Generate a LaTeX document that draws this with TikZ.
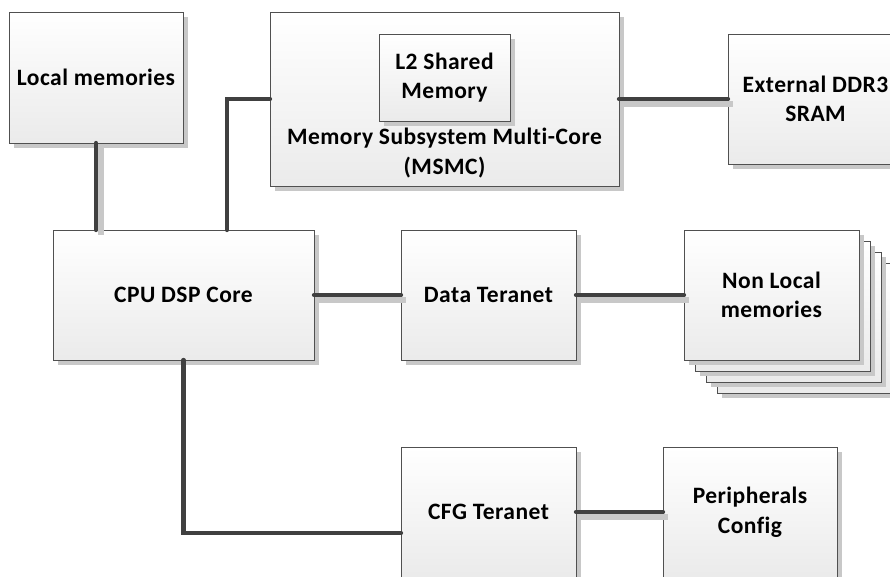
\documentclass[tikz,border=0pt]{standalone}
\usepackage{fontspec}
\setmainfont{Carlito}[Ligatures=NoCommon,LetterSpace=2.0]
\usetikzlibrary{shadows}
\definecolor{wiregray}{HTML}{404040}
\definecolor{shadegray}{HTML}{C8C8C8}
\definecolor{edgegray}{HTML}{505050}
\begin{document}
\begin{tikzpicture}
  [
    x=1pt, y=-1pt,
    inner sep=0mm, outer sep=0mm,
    font=\fontsize{23.5}{29.5}\selectfont\bfseries,
    block/.style={rectangle,draw=edgegray,line width=0.9pt,top color=white,bottom color=black!8,
      align=center,drop shadow={shadow xshift=5pt,shadow yshift=-5pt,fill=shadegray,opacity=1}},
    wire/.style={draw=wiregray,line width=4.3pt,line cap=round},
    wireshadow/.style={draw=shadegray,line width=6pt,transform canvas={xshift=5pt,yshift=-5pt}},
  ]
  \useasboundingbox (0,0) rectangle (890,577);
  % memory side
  \node (local) at (96,77.5) [block,minimum width=174pt,minimum height=131pt] {Local memories};
  \node (msmc) at (444.5,99) [block,minimum width=349pt,minimum height=174pt] {};
  \node (ltwo) at (444.5,77.5) [block,minimum width=131pt,minimum height=87pt] {L2 Shared\\Memory};
  \node (msmctext) at (444.5,153) [align=center] {Memory Subsystem Multi-Core\\(MSMC)};
  \node (ddr) at (815.5,99) [block,minimum width=175pt,minimum height=130pt] {External DDR3\\SRAM};
  % core and data path
  \node (cpu) at (183.5,295) [block,minimum width=261pt,minimum height=130pt] {CPU DSP Core};
  \node (data) at (488.5,295) [block,minimum width=175pt,minimum height=130pt] {Data Teranet};
  \node (nonlocalc) at (804.5,328) [block,minimum width=175pt,minimum height=130pt] {};
  \node (nonlocalb) at (793.5,317) [block,minimum width=175pt,minimum height=130pt] {};
  \node (nonlocala) at (782.5,306) [block,minimum width=175pt,minimum height=130pt] {};
  \node (nonlocal) at (771.5,295) [block,minimum width=175pt,minimum height=130pt] {Non Local\\memories};
  % config path
  \node (cfg) at (488.5,512) [block,minimum width=175pt,minimum height=130pt] {CFG Teranet};
  \node (periph) at (750,512) [block,minimum width=174pt,minimum height=130pt] {Peripherals\\Config};
  % links
  \draw [wireshadow] (local.south) -- (local.south |- cpu.north);
  \draw [wireshadow] (msmc) -- (ddr);
  \draw [wireshadow] (cpu) -- (data);
  \draw [wireshadow] (data) -- (nonlocal);
  \draw [wireshadow] (cfg) -- (periph);
  \draw [wire] (local.south) -- (local.south |- cpu.north);
  \draw [wire] ([xshift=43.5pt]cpu.north) |- (msmc.west);
  \draw [wire] (msmc) -- (ddr);
  \draw [wire] (cpu) -- (data);
  \draw [wire] (data) -- (nonlocal);
  \draw [wire] (cpu.south) |- ([yshift=-21pt]cfg.west);
  \draw [wire] (cfg) -- (periph);
\end{tikzpicture}
\end{document}
